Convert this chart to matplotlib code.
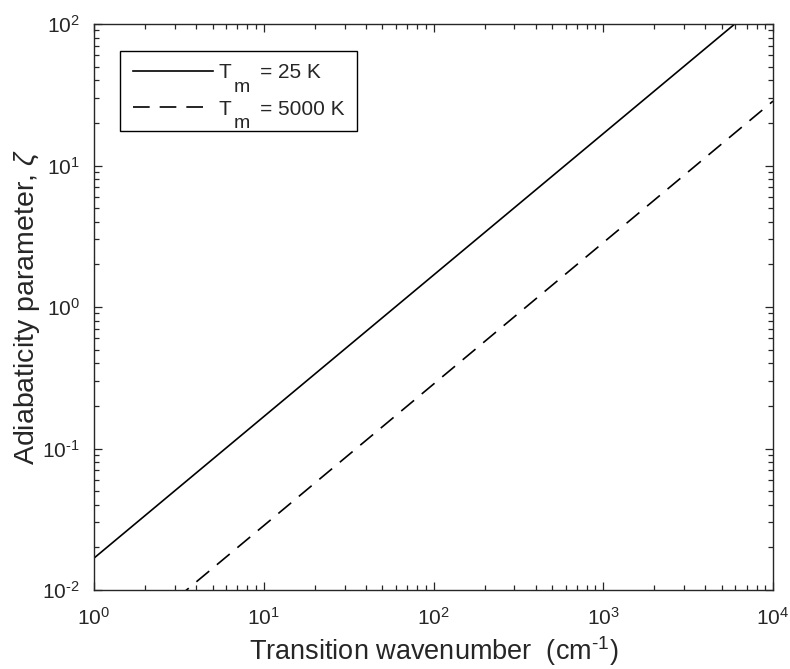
import matplotlib
matplotlib.use("Agg")
import matplotlib.pyplot as plt
from matplotlib.ticker import LogLocator, NullFormatter, FuncFormatter
import math

plt.rcParams['font.family'] = ['Liberation Sans', 'DejaVu Sans']
plt.rcParams['mathtext.fontset'] = 'custom'
plt.rcParams['mathtext.rm'] = 'Liberation Sans'
plt.rcParams['mathtext.it'] = 'Liberation Sans:italic'
plt.rcParams['mathtext.bf'] = 'Liberation Sans:bold'
plt.rcParams['lines.scale_dashes'] = False

# Data
wavenumber = [1.0, 1.0e4]
zeta_25K = [0.0168, 168.0]
zeta_5000K = [0.00285, 28.5]
temps = ["25 K", "5000 K"]

fig = plt.figure(figsize=(7.9, 6.69), dpi=100)
ax = fig.add_axes([94/790, 1-590/669, (773-94)/790, (590-24)/669])

axcol = '#262626'
ax.plot(wavenumber, zeta_25K, color='black', lw=1.2, label="T     = " + temps[0])
ax.plot(wavenumber, zeta_5000K, color='black', lw=1.2, dashes=(12, 7.2),
        label="T     = " + temps[1])

ax.set_xscale('log')
ax.set_yscale('log')
ax.set_xlim(1, 1e4)
ax.set_ylim(1e-2, 1e2)

def fmt(v, pos):
    e = int(round(math.log10(v)))
    s = str(e).replace('-', '\u2010')
    return "10$^{\\mathregular{%s}}$" % s

ax.xaxis.set_major_locator(LogLocator(base=10, numticks=10))
ax.yaxis.set_major_locator(LogLocator(base=10, numticks=10))
ax.xaxis.set_major_formatter(FuncFormatter(fmt))
ax.yaxis.set_major_formatter(FuncFormatter(fmt))
ax.xaxis.set_minor_locator(LogLocator(base=10, subs=range(2, 10), numticks=50))
ax.yaxis.set_minor_locator(LogLocator(base=10, subs=range(2, 10), numticks=50))
ax.xaxis.set_minor_formatter(NullFormatter())
ax.yaxis.set_minor_formatter(NullFormatter())

for s in ax.spines.values():
    s.set_color(axcol)
    s.set_linewidth(1.0)
ax.tick_params(which='both', direction='in', top=True, right=True, colors=axcol,
               labelcolor=axcol, labelsize=15, width=0.9)
ax.tick_params(which='major', length=6)
ax.tick_params(axis='y', which='major', pad=10)
ax.tick_params(axis='x', which='major', pad=12)
ax.tick_params(which='minor', length=3.5)

ax.set_xlabel('Transition wavenumber  (cm$^{\\mathregular{\u20101}}$)', fontsize=19.5,
              color=axcol, labelpad=4)
ax.set_ylabel('Adiabaticity parameter, $\\zeta$', fontsize=20.5, color=axcol, labelpad=0)

leg = ax.legend(loc='upper left', bbox_to_anchor=((120-94)/679, (590-51)/566),
                borderaxespad=0, fontsize=15, handlelength=3.84, handletextpad=0.3,
                fancybox=False, framealpha=1, edgecolor='black', labelspacing=0.82,
                borderpad=0.6)
leg.get_frame().set_linewidth(1.0)
for t in leg.get_texts():
    t.set_color(axcol)
    # subscript "m" of T_m, drawn large and low as in the reference
    ax.annotate("m", xy=(0, 0), xycoords=t, xytext=(10.6, -6.8),
                textcoords='offset points', ha='left', va='baseline',
                fontsize=14, color=axcol, zorder=10)

fig.savefig('out.png', dpi=100)
